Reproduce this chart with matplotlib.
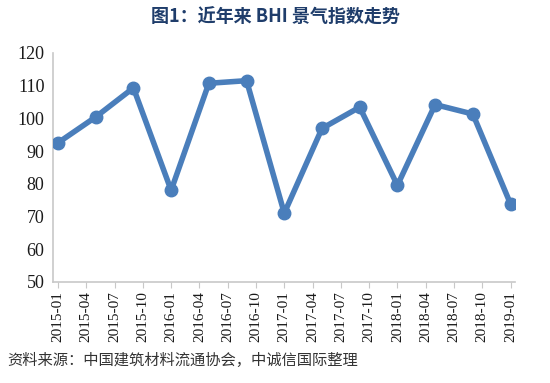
import matplotlib
matplotlib.use("Agg")
import matplotlib.pyplot as plt

plt.rcParams['font.family'] = ['Liberation Serif']

tick_labels = ["2015-01", "2015-04", "2015-07", "2015-10", "2016-01", "2016-04",
               "2016-07", "2016-10", "2017-01", "2017-04", "2017-07", "2017-10",
               "2018-01", "2018-04", "2018-07", "2018-10", "2019-01"]
tick_months = list(range(0, 49, 3))
point_months = list(range(0, 49, 4))
bhi_values = [92.5, 100.4, 109.3, 78.0, 110.7, 111.5, 71.0, 96.9, 103.4, 79.5, 104.2, 101.3, 73.8]
y_ticks = [50, 60, 70, 80, 90, 100, 110, 120]

fig = plt.figure(figsize=(5.5, 3.83), dpi=100)
ax = fig.add_axes([0.096, 0.264, 0.84, 0.598])
ax.plot(point_months, bhi_values, color='#4a7ebb', linewidth=4, marker='o',
        markersize=9, markerfacecolor='#4a7ebb', markeredgecolor='#4a7ebb', zorder=3)
ax.set_xlim(-0.55, 48.45)
ax.set_ylim(50, 120)
ax.set_yticks(y_ticks)
ax.set_yticklabels([str(v) for v in y_ticks], fontsize=13, color='#1a1a1a',
                   fontfamily='Liberation Serif')
ax.set_xticks(tick_months)
ax.set_xticklabels(tick_labels, rotation=90, fontsize=11, color='#1a1a1a',
                   fontfamily='Liberation Serif')
for s in ['top', 'right']:
    ax.spines[s].set_visible(False)
for s in ['left', 'bottom']:
    ax.spines[s].set_color('#c8c8c8')
    ax.spines[s].set_linewidth(1.2)
ax.tick_params(axis='y', length=0, pad=6)
ax.tick_params(axis='x', length=4, color='#c8c8c8', pad=3)

fig.text(0.5, 0.955, "图1：近年来 BHI 景气指数走势", ha='center', va='center',
         fontsize=13, fontweight='bold', color='#1f3d6b',
         family=['Noto Sans CJK SC'])
fig.text(0.014, 0.058, "资料来源：中国建筑材料流通协会，中诚信国际整理", ha='left', va='center',
         fontsize=11, color='#333333', family=['Noto Sans CJK SC'])

fig.savefig("out.png", dpi=100)
